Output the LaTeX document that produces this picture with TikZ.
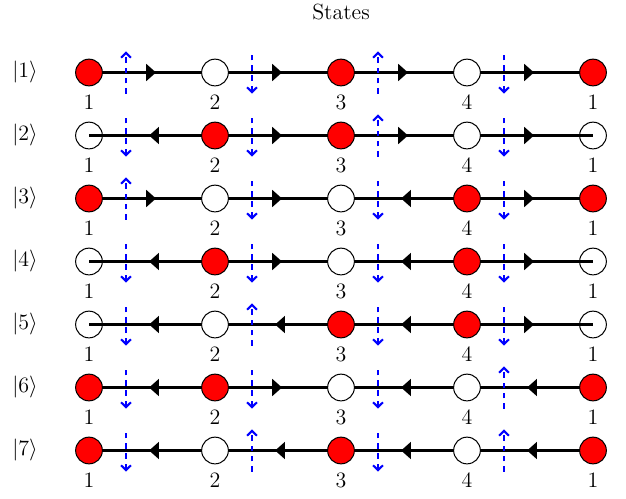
\documentclass[tikz,border=0pt]{standalone}
\usetikzlibrary{arrows.meta,decorations.markings,backgrounds}
\newcommand\staterow[5]{%
  \node[lbl] (k-#1) at (25,#2) {$|#1\rangle$};
  \foreach \s [count=\i] in {#3} {\node[s\s] (c-#1-\i) at ({89+126*(\i-1)},#2) {};}
  \foreach \t [count=\i] in {1,2,3,4,1} {\node[lbl] (n-#1-\i) at ({89+126*(\i-1)},{#2+30}) {\t};}
  \begin{pgfonlayer}{background}
  \foreach \d [count=\i] in {#4} {\pgfmathtruncatemacro\j{\i+1}\draw[chain\d] (c-#1-\i.center) -- (c-#1-\j.center);}
  \end{pgfonlayer}
  \foreach \f [count=\i] in {#5} {\coordinate (g-#1-\i) at ({126+126*(\i-1)},#2);
    \draw[flow\f] ([yshift=-11.5pt]g-#1-\i) -- ([yshift=11.5pt]g-#1-\i);}
}
\begin{document}
\begin{tikzpicture}[x=0.5465pt,y=-0.5465pt,
  site/.style={circle,draw=black,line width=0.55pt,minimum size=14.6pt,inner sep=0pt},
  sF/.style={site,fill=red},
  sO/.style={site,fill=white},
  sE/.style={site},
  chain/.style={line width=1.35pt,postaction={decorate}},
  chainR/.style={chain,decoration={markings,mark=at position 0.5 with {\arrow[xshift=2.2pt]{Triangle[length=5.4pt,width=9.2pt]}}}},
  chainL/.style={chain,decoration={markings,mark=at position 0.5 with {\arrowreversed[xshift=-1.6pt]{Triangle[length=5.4pt,width=9.2pt]}}}},
  flow/.style={blue,line width=1.15pt,dash pattern=on 3pt off 2.6pt},
  flowU/.style={flow,-{Straight Barb[length=2.6pt,width=5.4pt]}},
  flowD/.style={flow,{Straight Barb[length=2.6pt,width=5.4pt]}-},
  lbl/.style={font=\fontsize{12}{14}\selectfont}
]
\useasboundingbox (0,0) rectangle (626,498);
\node[lbl] (title) at (341,12) {States};
\staterow{1}{72.5}{F,O,F,O,F}{R,R,R,R}{U,D,U,D}
\staterow{2}{135.5}{E,F,F,O,E}{L,R,R,R}{D,D,U,D}
\staterow{3}{198.5}{F,O,O,F,F}{R,R,L,R}{U,D,D,D}
\staterow{4}{261.5}{E,F,O,F,E}{L,R,L,R}{D,D,D,D}
\staterow{5}{324.5}{E,O,F,F,E}{L,L,L,R}{D,U,D,D}
\staterow{6}{387.5}{F,F,O,O,F}{L,R,L,L}{D,D,D,U}
\staterow{7}{450.5}{F,O,F,O,F}{L,L,L,L}{D,U,D,U}
\end{tikzpicture}
\end{document}
